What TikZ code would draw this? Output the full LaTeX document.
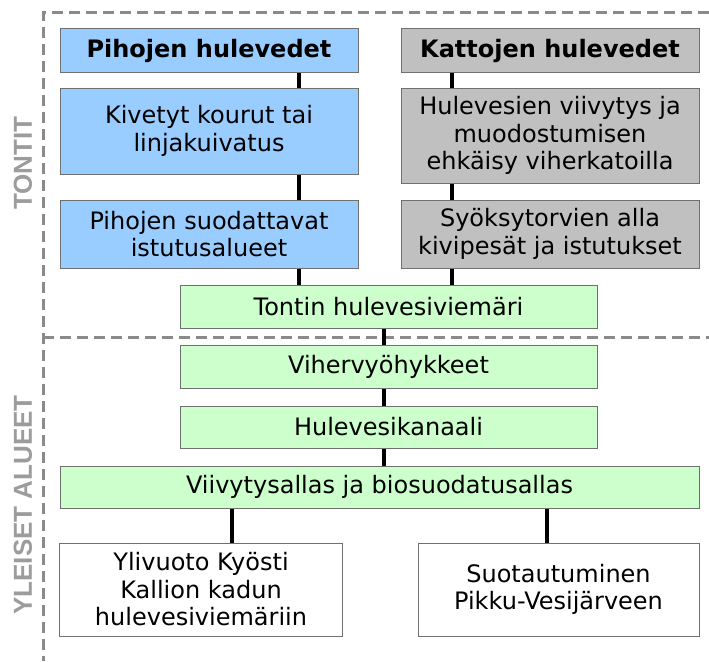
\documentclass[tikz,border=0pt]{standalone}
\usepackage{fontspec}
\setmainfont{DejaVu Sans}
\newfontfamily\sidefont{Liberation Sans}
\definecolor{blu}{HTML}{99CCFF}
\definecolor{gry}{HTML}{C0C0C0}
\definecolor{grn}{HTML}{CCFFCC}
\definecolor{dashgray}{HTML}{8A8A8A}
\definecolor{sidegray}{HTML}{9C9C9C}
\definecolor{boxedge}{HTML}{707070}
\begin{document}
\begin{tikzpicture}[x=1pt,y=-1pt,
  box/.style={draw=boxedge,line width=1pt,rectangle,inner sep=0pt,align=center,
    font=\fontsize{24}{27.5}\selectfont,text=black},
  bluebox/.style={box,fill=blu},
  graybox/.style={box,fill=gry},
  greenbox/.style={box,fill=grn},
  whitebox/.style={box,fill=white},
  headfont/.style={font=\bfseries\fontsize{24}{27.5}\selectfont},
  conn/.style={line width=4pt,black},
  zone/.style={dashgray,line width=3pt,dash pattern=on 11pt off 6pt},
  sidelabel/.style={rotate=90,text=sidegray,font=\sidefont\bfseries\fontsize{26}{30}\selectfont,inner sep=0pt}]
\useasboundingbox (0,0) rectangle (709,661);
\fill[white] (0,0) rectangle (709,661);
% zones
\coordinate (ztl) at (43,13);
\coordinate (ztr) at (709,13);
\coordinate (zbl) at (43,661);
\coordinate (zml) at (43,337);
\coordinate (zmr) at (709,337);
\draw[zone] (ztr) -- (ztl) -- (zbl);
\draw[zone] (zml) -- (zmr);
\node[sidelabel] (tontit) at (23,163) {TONTIT};
\node[sidelabel] (yleiset) at (23,505) {YLEISET ALUEET};
% boxes
\node[bluebox,headfont,minimum width=298pt,minimum height=43pt] (pih) at (209,50.5) {Pihojen hulevedet};
\node[bluebox,minimum width=298pt,minimum height=86pt] (kiv) at (209,131) {Kivetyt kourut tai\\linjakuivatus};
\node[bluebox,minimum width=298pt,minimum height=68pt] (suo) at (209,234) {Pihojen suodattavat\\istutusalueet};
\node[graybox,headfont,minimum width=298pt,minimum height=43pt] (kat) at (550,50.5) {Kattojen hulevedet};
\node[graybox,minimum width=298pt,minimum height=95pt] (hul) at (550,135.5) {Hulevesien viivytys ja\\muodostumisen\\ehkäisy viherkatoilla};
\node[graybox,minimum width=298pt,minimum height=68pt] (syo) at (550,234) {Syöksytorvien alla\\kivipesät ja istutukset};
\node[greenbox,minimum width=417pt,minimum height=43pt] (ton) at (388.5,306.5) {Tontin hulevesiviemäri};
\node[greenbox,minimum width=417pt,minimum height=43pt] (vih) at (388.5,366.5) {Vihervyöhykkeet};
\node[greenbox,minimum width=417pt,minimum height=42pt] (kan) at (388.5,427) {Hulevesikanaali};
\node[greenbox,minimum width=639pt,minimum height=42pt] (vii) at (379.5,487) {Viivytysallas ja biosuodatusallas};
\node[whitebox,minimum width=283pt,minimum height=93pt] (yli) at (201,589.5) {Ylivuoto Kyösti\\Kallion kadun\\hulevesiviemäriin};
\node[whitebox,minimum width=281pt,minimum height=93pt] (suot) at (558.5,589.5) {Suotautuminen\\Pikku-Vesijärveen};
% connector columns
\coordinate (lx) at (299,0);
\coordinate (rx) at (452,0);
\coordinate (mx) at (384,0);
\coordinate (bl) at (232,0);
\coordinate (br) at (547,0);
\draw[conn] (pih.south -| lx) -- (kiv.north -| lx);
\draw[conn] (kiv.south -| lx) -- (suo.north -| lx);
\draw[conn] (suo.south -| lx) -- (ton.north -| lx);
\draw[conn] (kat.south -| rx) -- (hul.north -| rx);
\draw[conn] (hul.south -| rx) -- (syo.north -| rx);
\draw[conn] (syo.south -| rx) -- (ton.north -| rx);
\draw[conn] (ton.south -| mx) -- (vih.north -| mx);
\draw[conn] (vih.south -| mx) -- (kan.north -| mx);
\draw[conn] (kan.south -| mx) -- (vii.north -| mx);
\draw[conn] (vii.south -| bl) -- (yli.north -| bl);
\draw[conn] (vii.south -| br) -- (suot.north -| br);
\end{tikzpicture}
\end{document}
